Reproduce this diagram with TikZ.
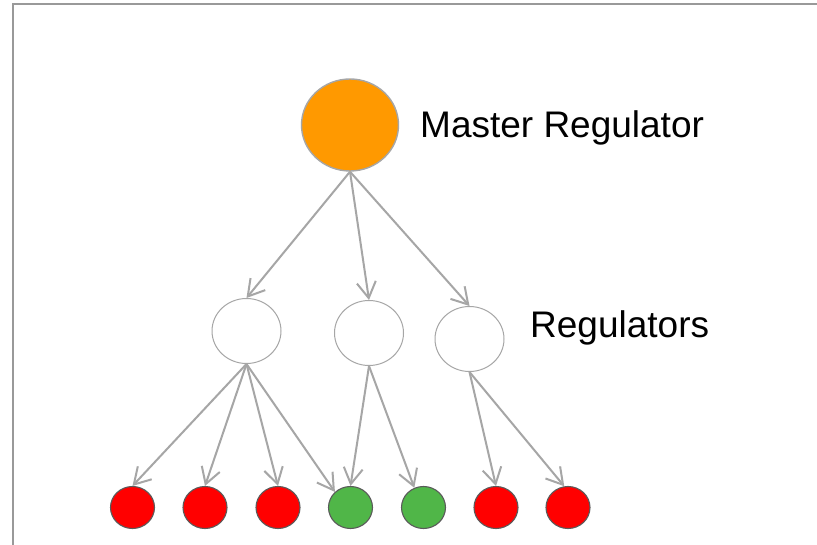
\documentclass[tikz,border=0pt]{standalone}
\usepackage{fontspec}
\setmainfont{Liberation Sans}
\usetikzlibrary{shapes.geometric,arrows.meta}
\definecolor{framegray}{HTML}{999999}
\definecolor{linkgray}{HTML}{A6A6A6}
\definecolor{rimgray}{HTML}{5A5A5A}
\definecolor{masterorange}{HTML}{FF9900}
\definecolor{leafred}{HTML}{FF0000}
\definecolor{leafgreen}{RGB}{80,182,72}
\tikzset{
  masternode/.style={ellipse, draw=linkgray, line width=1.4pt, fill=masterorange,
    inner sep=0pt, minimum width=97pt, minimum height=92pt},
  regnode/.style={ellipse, draw=linkgray, line width=1pt, fill=white,
    inner sep=0pt, minimum width=69pt, minimum height=65pt},
  leafnode/.style={ellipse, draw=rimgray, line width=1.1pt,
    inner sep=0pt, minimum width=44pt, minimum height=42pt},
  redleaf/.style={leafnode, fill=leafred},
  greenleaf/.style={leafnode, fill=leafgreen},
  link/.style={draw=linkgray, line width=2pt,
    -{Straight Barb[length=16pt,width=19pt]}},
  caption/.style={anchor=base west, inner sep=0pt, font=\fontsize{37}{40}\selectfont}
}
\begin{document}
\begin{tikzpicture}[x=1pt,y=-1pt]
\useasboundingbox (0,0) rectangle (817,545);
\fill[white] (0,0) rectangle (817,545);
% frame edges along the top and the left
\coordinate (fa) at (13.3,545);
\coordinate (fb) at (13.3,4);
\coordinate (fc) at (817,4);
\draw[framegray, line width=2pt] (fa) -- (fb) -- (fc);

% master regulator
\node[masternode] (m) at (350,125) {};
\node[caption] (mlabel) at (420,138) {Master Regulator};

% regulators
\node[regnode] (r1) at (246.5,331) {};
\node[regnode] (r2) at (369,333) {};
\node[regnode] (r3) at (469.5,339) {};
\node[caption] (rlabel) at (530,338) {Regulators};

% targets
\node[redleaf]   (l1) at (132.5,507.5) {};
\node[redleaf]   (l2) at (205,507.5) {};
\node[redleaf]   (l3) at (278,507.5) {};
\node[greenleaf] (l4) at (350.5,507.5) {};
\node[greenleaf] (l5) at (423.5,507.5) {};
\node[redleaf]   (l6) at (496,507.5) {};
\node[redleaf]   (l7) at (568,507.5) {};

% regulatory links
\draw[link] (m.south) -- (r1.north);
\draw[link] (m.south) -- (r2.north);
\draw[link] (m.south) -- (r3.north);

\draw[link] (r1.south) -- (l1.north);
\draw[link] (r1.south) -- (l2.north);
\draw[link] (r1.south) -- (l3.north);
\draw[link] (r1.south) -- (l4.135);

\draw[link] (r2.south) -- (l4.north);
\draw[link] (r2.south) -- (l5.115);

\draw[link] (r3.south) -- (l6.north);
\draw[link] (r3.south) -- (l7.100);
\end{tikzpicture}
\end{document}
